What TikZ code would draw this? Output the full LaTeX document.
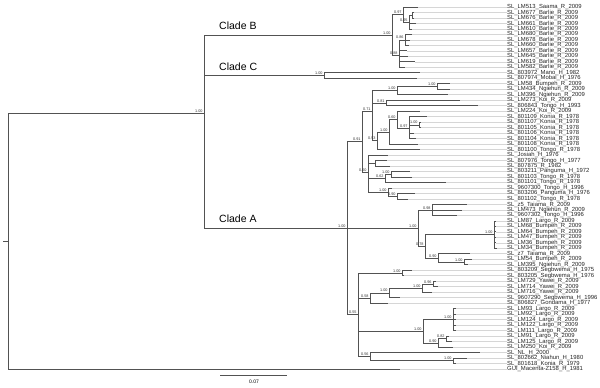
\documentclass[tikz,border=0pt]{standalone}
\usepackage{fontspec}
\setmainfont{Liberation Sans}
\newcommand\leafnode[3]{%
  \coordinate (t#1) at (#2,{7+(#1-1)*5.485});
  \node[lbl] (n#1) at (507,{7+(#1-1)*5.485}) {\detokenize{#3}};
  \draw[lead] (t#1) -- (n#1.west);}
\newcommand\supval[2]{\node[sup] (s-#1) at ([xshift=-1.3pt,yshift=0.7pt]#1) {#2};}
\begin{document}
\begin{tikzpicture}[x=1pt,y=-1pt,
  br/.style={draw=black!68, line width=0.8pt},
  lead/.style={draw=black!16, line width=0.7pt},
  lbl/.style={anchor=west, inner sep=0pt, font=\fontsize{5.9}{6}\selectfont, text=black!85},
  sup/.style={anchor=south east, inner sep=0pt, font=\fontsize{3.8}{4}\selectfont, text=black!80},
  clade/.style={anchor=west, inner sep=0pt, font=\fontsize{10.5}{12}\selectfont}]
\useasboundingbox (0,0) rectangle (600,388);
% leaves
\leafnode{1}{418}{SL_LM513_Saama_R_2009}
\leafnode{2}{414}{SL_LM677_Barlie_R_2009}
\leafnode{3}{414}{SL_LM676_Barlie_R_2009}
\leafnode{4}{416}{SL_LM661_Barlie_R_2009}
\leafnode{5}{412}{SL_LM610_Barlie_R_2009}
\leafnode{6}{412}{SL_LM680_Barlie_R_2009}
\leafnode{7}{410}{SL_LM678_Barlie_R_2009}
\leafnode{8}{409}{SL_LM660_Barlie_R_2009}
\leafnode{9}{407}{SL_LM657_Barlie_R_2009}
\leafnode{10}{408}{SL_LM645_Barlie_R_2009}
\leafnode{11}{415}{SL_LM619_Barlie_R_2009}
\leafnode{12}{405}{SL_LM582_Barlie_R_2009}
\leafnode{13}{420}{SL_803972_Mano_H_1982}
\leafnode{14}{417}{SL_807974_Mobai_H_1976}
\leafnode{15}{450}{SL_LM58_Bumpeh_R_2009}
\leafnode{16}{450}{SL_LM434_Ngiehun_R_2009}
\leafnode{17}{448}{SL_LM396_Ngiehun_R_2009}
\leafnode{18}{460}{SL_LM273_Koi_R_2009}
\leafnode{19}{478}{SL_806843_Tongo_H_1993}
\leafnode{20}{420}{SL_LM224_Koi_R_2009}
\leafnode{21}{427}{SL_801109_Konia_R_1978}
\leafnode{22}{421}{SL_801107_Konia_R_1978}
\leafnode{23}{421}{SL_801105_Konia_R_1978}
\leafnode{24}{414}{SL_801106_Konia_R_1978}
\leafnode{25}{416}{SL_801104_Konia_R_1978}
\leafnode{26}{418}{SL_801108_Konia_R_1978}
\leafnode{27}{420}{SL_801100_Tongo_R_1978}
\leafnode{28}{388}{SL_Josiah_H_1976}
\leafnode{29}{387}{SL_807976_Tongo_H_1977}
\leafnode{30}{390}{SL_807875_R_1982}
\leafnode{31}{410}{SL_803211_Panguma_H_1972}
\leafnode{32}{412}{SL_801103_Tongo_R_1978}
\leafnode{33}{446}{SL_801101_Tongo_R_1978}
\leafnode{34}{392}{SL_9607300_Tongo_H_1996}
\leafnode{35}{415}{SL_803206_Panguma_H_1976}
\leafnode{36}{408}{SL_801102_Tongo_R_1978}
\leafnode{37}{467}{SL_z5_Taiama_R_2009}
\leafnode{38}{462}{SL_LM473_Ngiehun_R_2009}
\leafnode{39}{457}{SL_9607302_Tongo_H_1996}
\leafnode{40}{496}{SL_LM87_Largo_R_2009}
\leafnode{41}{496}{SL_LM68_Bumpeh_R_2009}
\leafnode{42}{496}{SL_LM64_Bumpeh_R_2009}
\leafnode{43}{496}{SL_LM47_Bumpeh_R_2009}
\leafnode{44}{496}{SL_LM36_Bumpeh_R_2009}
\leafnode{45}{497}{SL_LM34_Bumpeh_R_2009}
\leafnode{46}{470}{SL_z7_Taiama_R_2009}
\leafnode{47}{472}{SL_LM54_Bumpeh_R_2009}
\leafnode{48}{468}{SL_LM395_Ngiehun_R_2009}
\leafnode{49}{412}{SL_803209_Segbwema_H_1975}
\leafnode{50}{404}{SL_803205_Segbwema_H_1976}
\leafnode{51}{436}{SL_LM729_Yawei_R_2009}
\leafnode{52}{438}{SL_LM714_Yawei_R_2009}
\leafnode{53}{432}{SL_LM716_Yawei_R_2009}
\leafnode{54}{400}{SL_9607290_Segbwema_H_1996}
\leafnode{55}{388}{SL_806827_Gondama_H_1977}
\leafnode{56}{456}{SL_LM93_Largo_R_2009}
\leafnode{57}{456}{SL_LM92_Largo_R_2009}
\leafnode{58}{456}{SL_LM124_Largo_R_2009}
\leafnode{59}{456}{SL_LM122_Largo_R_2009}
\leafnode{60}{456}{SL_LM111_Largo_R_2009}
\leafnode{61}{449}{SL_LM91_Largo_R_2009}
\leafnode{62}{452}{SL_LM125_Largo_R_2009}
\leafnode{63}{453}{SL_LM250_Koi_R_2009}
\leafnode{64}{480}{SL_NL_H_2000}
\leafnode{65}{467}{SL_802662_Niahun_H_1980}
\leafnode{66}{456}{SL_801618_Konia_R_1979}
\leafnode{67}{400}{GUI_Macenta-Z158_H_1981}
% internal nodes
\coordinate (root) at (8,240.98);
\coordinate (rs) at (3,240.98);
\coordinate (N204) at (204,112.94);
\coordinate (cB) at (392,35.02);
\coordinate (b097) at (403,14.77);
\coordinate (b095) at (409,22.54);
\coordinate (b23) at (412,15.23);
\coordinate (b088) at (399,55.27);
\coordinate (b086) at (405,39.91);
\coordinate (cC) at (324,75.56);
\coordinate (cA) at (347,228.25);
\coordinate (a091) at (362,141.86);
\coordinate (a071) at (372,111.48);
\coordinate (g1) at (397,90.65);
\coordinate (q) at (437,86.53);
\coordinate (a081) at (386,102.99);
\coordinate (a053) at (377,140.79);
\coordinate (a100a) at (389,131.96);
\coordinate (a060) at (397,119.79);
\coordinate (a097) at (409,128.36);
\coordinate (a100b) at (419,124.93);
\coordinate (a060b) at (368,172.24);
\coordinate (n2) at (375,163.32);
\coordinate (P2) at (385,178.41);
\coordinate (P1) at (391,174.29);
\coordinate (Z2) at (388,192.12);
\coordinate (W) at (397,196.23);
\coordinate (L) at (418,228.12);
\coordinate (M) at (432,209.95);
\coordinate (K) at (425,246.29);
\coordinate (B6) at (494,234.63);
\coordinate (J) at (438,257.94);
\coordinate (I) at (464,262.05);
\coordinate (a055) at (358,314.76);
\coordinate (sg) at (402,273.02);
\coordinate (a058) at (370,298.05);
\coordinate (s100) at (389,292.9);
\coordinate (y100) at (422,288.1);
\coordinate (y096) at (433,283.99);
\coordinate (a100c) at (423,331.3);
\coordinate (L100d) at (453,319.65);
\coordinate (a090) at (438,342.96);
\coordinate (a082) at (446,338.84);
\coordinate (a056) at (370,356.67);
\coordinate (n1) at (453,360.78);
% branches
\draw[br] (rs) -- (root);
\foreach \p/\c in {root/N204,root/t67,
  N204/cB,N204/cC,N204/cA,
  cB/b097,cB/b088,b097/t1,b097/b095,b095/b23,b095/t4,b095/t5,b23/t2,b23/t3,
  b088/b086,b088/t9,b088/t10,b088/t11,b088/t12,b086/t6,b086/t7,b086/t8,
  cC/t13,cC/t14,
  cA/a091,cA/L,cA/a055,
  a091/a071,a091/a060b,
  a071/g1,a071/a081,a071/a053,g1/q,g1/t17,q/t15,q/t16,a081/t18,a081/t19,
  a053/a100a,a053/t27,a100a/a060,a100a/t26,a060/t20,a060/a097,
  a097/t21,a097/a100b,a097/t24,a097/t25,a100b/t22,a100b/t23,
  a060b/t28,a060b/n2,a060b/P2,a060b/Z2,n2/t29,n2/t30,P2/P1,P2/t33,P1/t31,P1/t32,
  Z2/t34,Z2/W,W/t35,W/t36,
  L/M,L/K,M/t37,M/t38,M/t39,K/B6,K/J,B6/t40,B6/t41,B6/t42,B6/t43,B6/t44,B6/t45,
  J/t46,J/I,I/t47,I/t48,
  a055/sg,a055/a058,a055/a100c,a055/a056,sg/t49,sg/t50,a058/s100,a058/t55,
  s100/y100,s100/t54,y100/y096,y100/t53,y096/t51,y096/t52,
  a100c/L100d,a100c/a090,L100d/t56,L100d/t57,L100d/t58,L100d/t59,L100d/t60,
  a090/a082,a090/t63,a082/t61,a082/t62,
  a056/t64,a056/n1,n1/t65,n1/t66}
  \draw[br] (\p) |- (\c);
% support values
\supval{N204}{1.00}
\supval{cB}{1.00}
\supval{b097}{0.97}
\supval{b095}{0.95}
\supval{b086}{0.86}
\supval{b088}{0.88}
\supval{cC}{1.00}
\supval{cA}{1.00}
\supval{a091}{0.91}
\supval{a071}{0.71}
\supval{g1}{1.00}
\supval{q}{1.00}
\supval{a081}{0.81}
\supval{a053}{0.53}
\supval{a100a}{1.00}
\supval{a060}{0.60}
\supval{a097}{0.97}
\supval{a100b}{1.00}
\supval{a060b}{0.60}
\supval{P1}{1.00}
\supval{P2}{0.62}
\supval{Z2}{1.00}
\supval{W}{0.90}
\supval{L}{1.00}
\supval{M}{0.98}
\supval{K}{0.78}
\supval{B6}{1.00}
\supval{J}{0.90}
\supval{I}{1.00}
\supval{a055}{0.55}
\supval{sg}{1.00}
\supval{a058}{0.58}
\supval{s100}{1.00}
\supval{y100}{1.00}
\supval{y096}{0.96}
\supval{a100c}{1.00}
\supval{L100d}{1.00}
\supval{a090}{0.90}
\supval{a082}{0.82}
\supval{a056}{0.56}
\supval{n1}{1.00}
% clade labels
\node[clade] (labB) at (219,26) {Clade B};
\node[clade] (labC) at (219,67) {Clade C};
\node[clade] (labA) at (219,219) {Clade A};
% scale bar
\coordinate (sb1) at (220,375.7);
\coordinate (sb2) at (287,375.7);
\draw[br] (sb1) -- (sb2);
\node[inner sep=0pt, font=\fontsize{5}{6}\selectfont] (sbl) at (254,381.5) {0.07};
\end{tikzpicture}
\end{document}
